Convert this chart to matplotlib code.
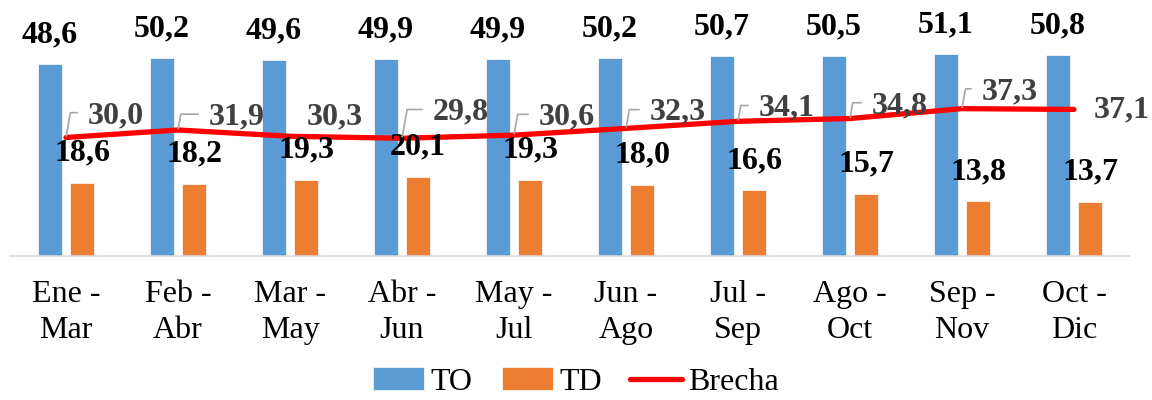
import matplotlib
matplotlib.use("Agg")
import matplotlib.pyplot as plt
import numpy as np

# datos
periodos = ["Ene -\nMar", "Feb -\nAbr", "Mar -\nMay", "Abr -\nJun", "May -\nJul",
            "Jun -\nAgo", "Jul -\nSep", "Ago -\nOct", "Sep -\nNov", "Oct -\nDic"]
to_vals = [48.6, 50.2, 49.6, 49.9, 49.9, 50.2, 50.7, 50.5, 51.1, 50.8]
td_vals = [18.6, 18.2, 19.3, 20.1, 19.3, 18.0, 16.6, 15.7, 13.8, 13.7]
brecha = [30.0, 31.9, 30.3, 29.8, 30.6, 32.3, 34.1, 34.8, 37.3, 37.1]

# posicion de las etiquetas de brecha (pixeles, relativo al punto)
lbl_dx = [50, 59, 45, 59, 53, 52, 49, 50, 48, 48]
lbl_dy = [22, 13, 19, 26, 18, 16, 13, 13, 17, 0]
con_guia = [True, True, False, True, True, True, True, True, True, False]

def fmt(v):
    return ("%.1f" % v).replace(".", ",")

def main():
    plt.rcParams['font.family'] = ['Liberation Serif', 'DejaVu Serif']
    fig = plt.figure(figsize=(11.52, 4), dpi=100)
    ax = fig.add_axes([10/1152, 144/400, 1120/1152, 256/400])

    x = np.arange(len(periodos))
    w = 0.214
    off = 0.143
    b1 = ax.bar(x - off, to_vals, w, color='#5B9BD5', edgecolor='white', linewidth=0.5, label='TO')
    b2 = ax.bar(x + off, td_vals, w, color='#ED7D31', edgecolor='white', linewidth=0.5, label='TD')
    ln, = ax.plot(x, brecha, color='#FF0000', lw=3.8, solid_capstyle='round', label='Brecha', zorder=3)

    fs = 23
    for xi, v in zip(x, to_vals):
        ax.annotate(fmt(v), (xi - off, v), xytext=(0, 21), textcoords='offset points',
                    ha='center', va='center', fontsize=fs, fontweight='bold', color='black')
    for xi, v in zip(x, td_vals):
        ax.annotate(fmt(v), (xi + off, v), xytext=(0, 21.5), textcoords='offset points',
                    ha='center', va='center', fontsize=fs, fontweight='bold', color='black')

    for i, v in enumerate(brecha):
        dx = lbl_dx[i] * 0.72
        dy = lbl_dy[i] * 0.72
        ax.annotate(fmt(v), (x[i], v), xytext=(dx, dy), textcoords='offset points',
                    ha='center', va='center', fontsize=fs, fontweight='bold', color='#404040',
                    zorder=4)
        if con_guia[i]:
            # linea guia en forma de codo
            ax.annotate('', (x[i], v), xytext=(dx - 28, dy + 2), textcoords='offset points',
                        arrowprops=dict(arrowstyle='-', color='#A6A6A6', lw=1.2,
                                        connectionstyle='angle,angleA=0,angleB=80,rad=0',
                                        shrinkA=0, shrinkB=1))

    ax.set_xlim(-0.5, len(periodos) - 0.5)
    ax.set_ylim(0, 64.8)
    ax.set_xticks(x)
    ax.set_xticklabels(periodos, fontsize=23, linespacing=1.35)
    ax.tick_params(axis='x', length=0, pad=17)
    ax.set_yticks([])
    for s in ['top', 'right', 'left']:
        ax.spines[s].set_visible(False)
    ax.spines['bottom'].set_color('#D9D9D9')
    ax.spines['bottom'].set_linewidth(1.2)

    fig.legend(handles=[b1, b2, ln], labels=['TO', 'TD', 'Brecha'], loc='center',
               bbox_to_anchor=(0.5, 0.045), ncol=3, frameon=False, fontsize=23,
               handlelength=1.6, handletextpad=0.2, columnspacing=0.9)

    fig.savefig('out.png', dpi=100)

if __name__ == '__main__':
    main()
